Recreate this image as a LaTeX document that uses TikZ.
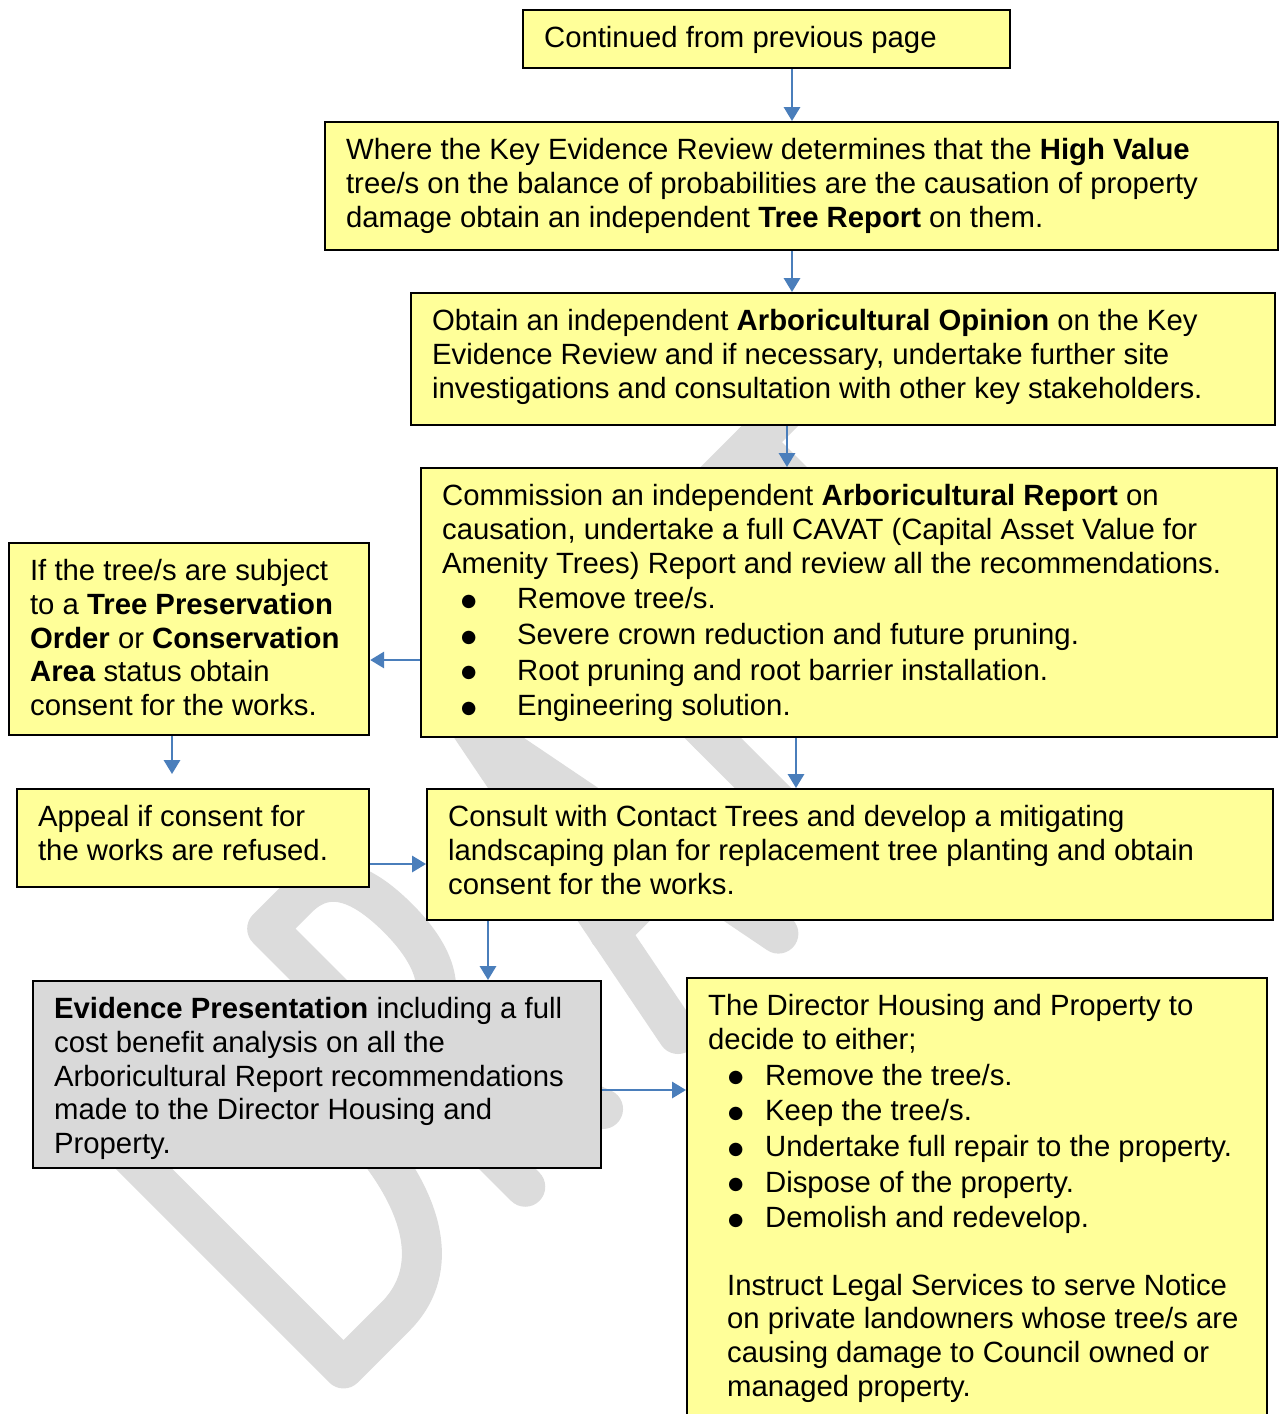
\documentclass[tikz,border=0pt]{standalone}
\usepackage{fontspec}
\setmainfont{Liberation Sans}
\newfontfamily\dotfont{DejaVu Sans}
\usetikzlibrary{arrows.meta}

\definecolor{boxyellow}{RGB}{255,255,153}
\definecolor{boxgray}{RGB}{217,217,217}
\definecolor{linkblue}{RGB}{74,126,187}
\definecolor{markgray}{RGB}{220,220,220}

% one drawing unit = one pixel of a 1279 x 1414 sheet
\newlength\upx
\setlength\upx{0.5pt}

% box body: fixed width and height, text set from the top left corner
\newcommand\boxbody[3]{%
  \parbox[c][#2\upx][t]{#1\upx}{\raggedright\leftskip=21\upx
    \rule{0pt}{18.75pt}#3}}
% list entry: total indent, bullet offset, text
\newcommand\bitem[3]{%
  \makebox[#1\upx][l]{\hspace*{#2\upx}\raisebox{1.1pt}{\dotfont\fontsize{8.8pt}{8.8pt}\selectfont ●}}#3}

\tikzset{
  flowbox/.style={draw=black, line width=1.1pt, fill=boxyellow, anchor=north west,
    inner sep=0pt, font=\fontsize{14.65pt}{16.85pt}\selectfont},
  greybox/.style={flowbox, fill=boxgray},
  link/.style={draw=linkblue, line width=1pt, -{Triangle[length=7pt,width=8.2pt]}},
  markstroke/.style={draw=markgray, line width=20pt, line cap=round, line join=round}
}

\begin{document}
\begin{tikzpicture}[x=0.5pt, y=-0.5pt]
\useasboundingbox (0,0) rectangle (1279,1414);

% watermark lettering, set along the 45 degree diagonal
\begin{scope}[shift={(340,1372)}, x={(0.35355pt,0.35355pt)}, y={(-0.35355pt,0.35355pt)}]
  % D
  \draw[markstroke] (5,0) -- (5,365) -- (78,365)
    .. controls (152,365) and (187,290) .. (187,182)
    .. controls (187,75) and (152,0) .. (78,0) -- cycle;
  % R
  \draw[markstroke] (262,0) -- (262,365) -- (305,365)
    .. controls (345,365) and (362,335) .. (362,280)
    .. controls (362,220) and (340,188) .. (300,188) -- (262,188);
  \draw[markstroke] (300,188) -- (372,0);
  % A
  \draw[markstroke] (478,0) -- (549,365) -- (620,0);
  \draw[markstroke] (501,120) -- (597,120);
  % F
  \draw[markstroke] (810,365) -- (712,365) -- (712,0);
  \draw[markstroke] (712,190) -- (790,190);
  % T
  \draw[markstroke] (865,365) -- (1035,365);
  \draw[markstroke] (950,365) -- (950,0);
\end{scope}

% boxes
\node[flowbox] (b1) at (522,9) {\boxbody{487}{58}{Continued from previous page}};

\node[flowbox] (b2) at (324,121) {\boxbody{953}{128}{Where the Key Evidence Review determines that the \textbf{High Value}\\
tree/s on the balance of probabilities are the causation of property\\
damage obtain an independent \textbf{Tree Report} on them.}};

\node[flowbox] (b3) at (410,292) {\boxbody{864}{132}{Obtain an independent \textbf{Arboricultural Opinion} on the Key\\
Evidence Review and if necessary, undertake further site\\
investigations and consultation with other key stakeholders.}};

\node[flowbox] (b4) at (420,467) {\boxbody{856}{269}{Commission an independent \textbf{Arboricultural Report} on\\
causation, undertake a full CAVAT (Capital Asset Value for\\
Amenity Trees) Report and review all the recommendations.\\[1pt]
\bitem{75}{19}{Remove tree/s.}\\[1pt]
\bitem{75}{19}{Severe crown reduction and future pruning.}\\[1pt]
\bitem{75}{19}{Root pruning and root barrier installation.}\\[1pt]
\bitem{75}{19}{Engineering solution.}}};

\node[flowbox] (b5) at (8,542) {\boxbody{360}{192}{If the tree/s are subject\\
to a \textbf{Tree Preservation}\\
\textbf{Order} or \textbf{Conservation}\\
\textbf{Area} status obtain\\
consent for the works.}};

\node[flowbox] (b6) at (16,788) {\boxbody{352}{98}{Appeal if consent for\\
the works are refused.}};

\node[flowbox] (b7) at (426,788) {\boxbody{846}{131}{Consult with Contact Trees and develop a mitigating\\
landscaping plan for replacement tree planting and obtain\\
consent for the works.}};

\node[greybox] (b8) at (32,980) {\boxbody{568}{187}{\textbf{Evidence Presentation} including a full\\
cost benefit analysis on all the\\
Arboricultural Report recommendations\\
made to the Director Housing and\\
Property.}};

\node[flowbox] (b9) at (686,977) {\boxbody{580}{463}{The Director Housing and Property to\\
decide to either;\\[1pt]
\bitem{57}{20}{Remove the tree/s.}\\[1pt]
\bitem{57}{20}{Keep the tree/s.}\\[1pt]
\bitem{57}{20}{Undertake full repair to the property.}\\[1pt]
\bitem{57}{20}{Dispose of the property.}\\[1pt]
\bitem{57}{20}{Demolish and redevelop.}\\[16.75pt]
\hspace*{19\upx}Instruct Legal Services to serve Notice\\
\hspace*{19\upx}on private landowners whose tree/s are\\
\hspace*{19\upx}causing damage to Council owned or\\
\hspace*{19\upx}managed property.}};

% connectors
\coordinate (appealin) at (172,774);
\draw[link] (792,0 |- b1.south) -- (792,0 |- b2.north);
\draw[link] (792,0 |- b2.south) -- (792,0 |- b3.north);
\draw[link] (787,0 |- b3.south) -- (787,0 |- b4.north);
\draw[link] (b4.west |- 0,660) -- (b5.east |- 0,660);
\draw[link] (172,0 |- b5.south) -- (appealin);
\draw[link] (796,0 |- b4.south) -- (796,0 |- b7.north);
\draw[link] (b6.east |- 0,864) -- (b7.west |- 0,864);
\draw[link] (488,0 |- b7.south) -- (488,0 |- b8.north);
\draw[link] (b8.east |- 0,1090) -- (b9.west |- 0,1090);
\end{tikzpicture}
\end{document}
